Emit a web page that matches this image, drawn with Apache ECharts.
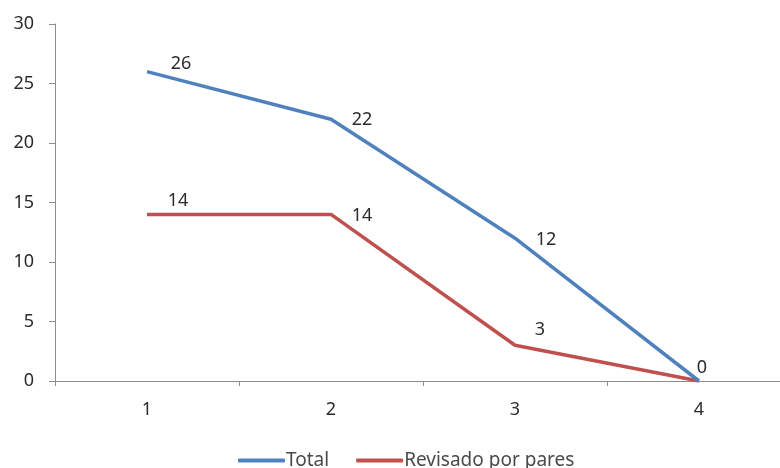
<!DOCTYPE html>
<html>
<head>
<meta charset="utf-8">
<script src="https://cdn.jsdelivr.net/npm/echarts@6/dist/echarts.min.js"></script>
<style>
  html, body { margin: 0; padding: 0; background: #fff; overflow: hidden; }
  #chart { width: 791px; height: 468px; }
</style>
</head>
<body>
<div id="chart"></div>
<script>
// Revisions per round
const categories = ['1', '2', '3', '4'];
const totalValues = [26, 22, 12, 0];
const peerReviewedValues = [14, 14, 3, 0];
const seriesNames = ['Total', 'Revisado por pares'];

// label centre nudges for each point, [dx, dy]
const totalLabelOffsets = [[34, -8], [31, 1], [31, 2], [3, -13]];
const peerLabelOffsets = [[31, -14], [31, 1], [25, -15], [0, 0]];

const fontFamily = '"Noto Sans", "Open Sans", sans-serif';
const axisColor = '#8c8c8c';
const textColor = '#2b2b2b';
const fontSize = 18;

function buildData(values, offsets, showLast) {
  return values.map((v, i) => ({
    value: v,
    label: {
      show: showLast || i < values.length - 1,
      offset: offsets[i]
    }
  }));
}

const seriesLabel = { show: true, position: 'inside', color: textColor, fontSize: fontSize };

const chart = echarts.init(document.getElementById('chart'), null, { renderer: 'canvas' });
chart.setOption({
  animation: false,
  backgroundColor: '#ffffff',
  textStyle: { fontFamily: fontFamily },
  grid: { left: 55, right: 0, top: 24, bottom: 87 },
  legend: {
    top: 446,
    left: 233,
    itemGap: 27,
    itemWidth: 47,
    itemHeight: 4,
    icon: 'roundRect',
    textStyle: { fontSize: 19, color: '#4a4a4a', fontFamily: fontFamily, padding: [0, 0, 0, -4] },
    data: seriesNames
  },
  xAxis: {
    type: 'category',
    data: categories,
    boundaryGap: true,
    axisLine: { lineStyle: { color: axisColor, width: 1 } },
    axisTick: { show: true, length: 5, lineStyle: { color: axisColor } },
    axisLabel: { color: textColor, fontSize: fontSize, margin: 20 },
    splitLine: { show: false }
  },
  yAxis: {
    type: 'value',
    min: 0,
    max: 30,
    interval: 5,
    axisLine: { show: true, lineStyle: { color: axisColor, width: 1 } },
    axisTick: { show: true, length: 6, lineStyle: { color: axisColor } },
    axisLabel: { color: textColor, fontSize: fontSize, margin: 21 },
    splitLine: { show: false }
  },
  series: [
    {
      name: seriesNames[0],
      type: 'line',
      data: buildData(totalValues, totalLabelOffsets, true),
      showSymbol: true,
      symbol: 'circle',
      symbolSize: 0.01,
      color: '#4f81bd',
      lineStyle: { width: 3.5, color: '#4f81bd' },
      label: seriesLabel,
      z: 3
    },
    {
      name: seriesNames[1],
      type: 'line',
      data: buildData(peerReviewedValues, peerLabelOffsets, false),
      showSymbol: true,
      symbol: 'circle',
      symbolSize: 0.01,
      color: '#c0504d',
      lineStyle: { width: 3.5, color: '#c0504d' },
      label: seriesLabel,
      z: 2
    }
  ]
});
</script>
</body>
</html>
